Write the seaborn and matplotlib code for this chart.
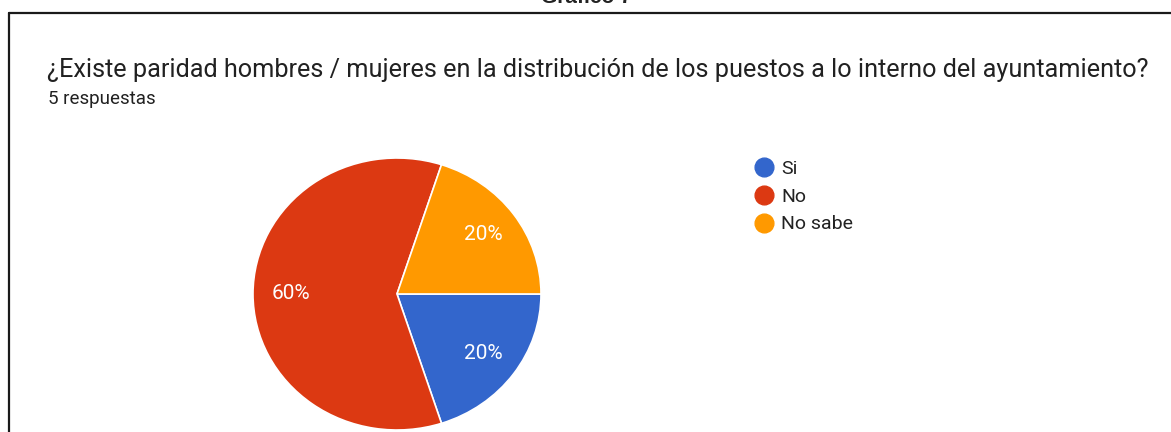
#Import the libraries : Matplotlib and Seaborn
import matplotlib
matplotlib.use("Agg")
import matplotlib.pyplot as plt
from matplotlib.lines import Line2D
import seaborn as sns

#Data
categories = ["Si", "No", "No sabe"]
shares = [20, 60, 20]
colors = ["#3366cc", "#dc3912", "#ff9900"]
question = "¿Existe paridad hombres / mujeres en la distribución de los puestos a lo interno del ayuntamiento?"
responses = "5 respuestas"
caption = "Gráfico 7"

sns.set_theme(style="white")
plt.rcParams['font.family'] = ['Roboto', 'DejaVu Sans']

W, H = 1171, 432
fig = plt.figure(figsize=(W / 100, H / 100), dpi=100)
fig.patch.set_facecolor("white")

#Frame lines (top and left) and the caption, cut at the top as in the source
fig.add_artist(Line2D([9 / W, 1], [1 - 12.5 / H, 1 - 12.5 / H], color="#1a1a1a", lw=1.6))
fig.add_artist(Line2D([8.5 / W, 8.5 / W], [0, 1 - 12.5 / H], color="#1a1a1a", lw=1.6))
fig.text(586 / W, 1 - 3 / H, caption, ha="center", va="baseline", fontsize=15,
         fontweight="bold", color="#222222", family=["Liberation Sans", "DejaVu Sans"])

#Header texts
fig.text(47 / W, 1 - 77 / H, question, ha="left", va="baseline", fontsize=18.2, color="#212121")
fig.text(48 / W, 1 - 104 / H, responses, ha="left", va="baseline", fontsize=13.5, color="#212121")

#Pie axes placed around the pie centre (397, 294) with radii 144 x 136 px
cx, cy, rx, ry = 397, 294, 144, 136
ax = fig.add_axes([(cx - 1.25 * rx) / W, (H - cy - 1.25 * ry) / H, 2.5 * rx / W, 2.5 * ry / H])
wedges, texts, autotexts = ax.pie(shares, colors=colors, startangle=0, counterclock=False,
                                  autopct="%1.0f%%", pctdistance=0.74,
                                  wedgeprops=dict(edgecolor="white", linewidth=1.2),
                                  textprops=dict(color="white", fontsize=15))
ax.set_aspect("auto")
ax.set_xlim(-1.25, 1.25)
ax.set_ylim(-1.25, 1.25)
ax.axis("off")

#Legend with round markers
handles = [Line2D([0], [0], marker="o", linestyle="", markersize=13.5,
                  markerfacecolor=c, markeredgecolor=c) for c in colors]
fig.legend(handles, categories, loc="upper left", bbox_to_anchor=(752 / W, 1 - 160 / H),
           frameon=False, fontsize=14, handlelength=1.2, handletextpad=0.3,
           labelspacing=0.5, borderaxespad=0, borderpad=0, labelcolor="#222222")

plt.savefig("out.png", dpi=100)
